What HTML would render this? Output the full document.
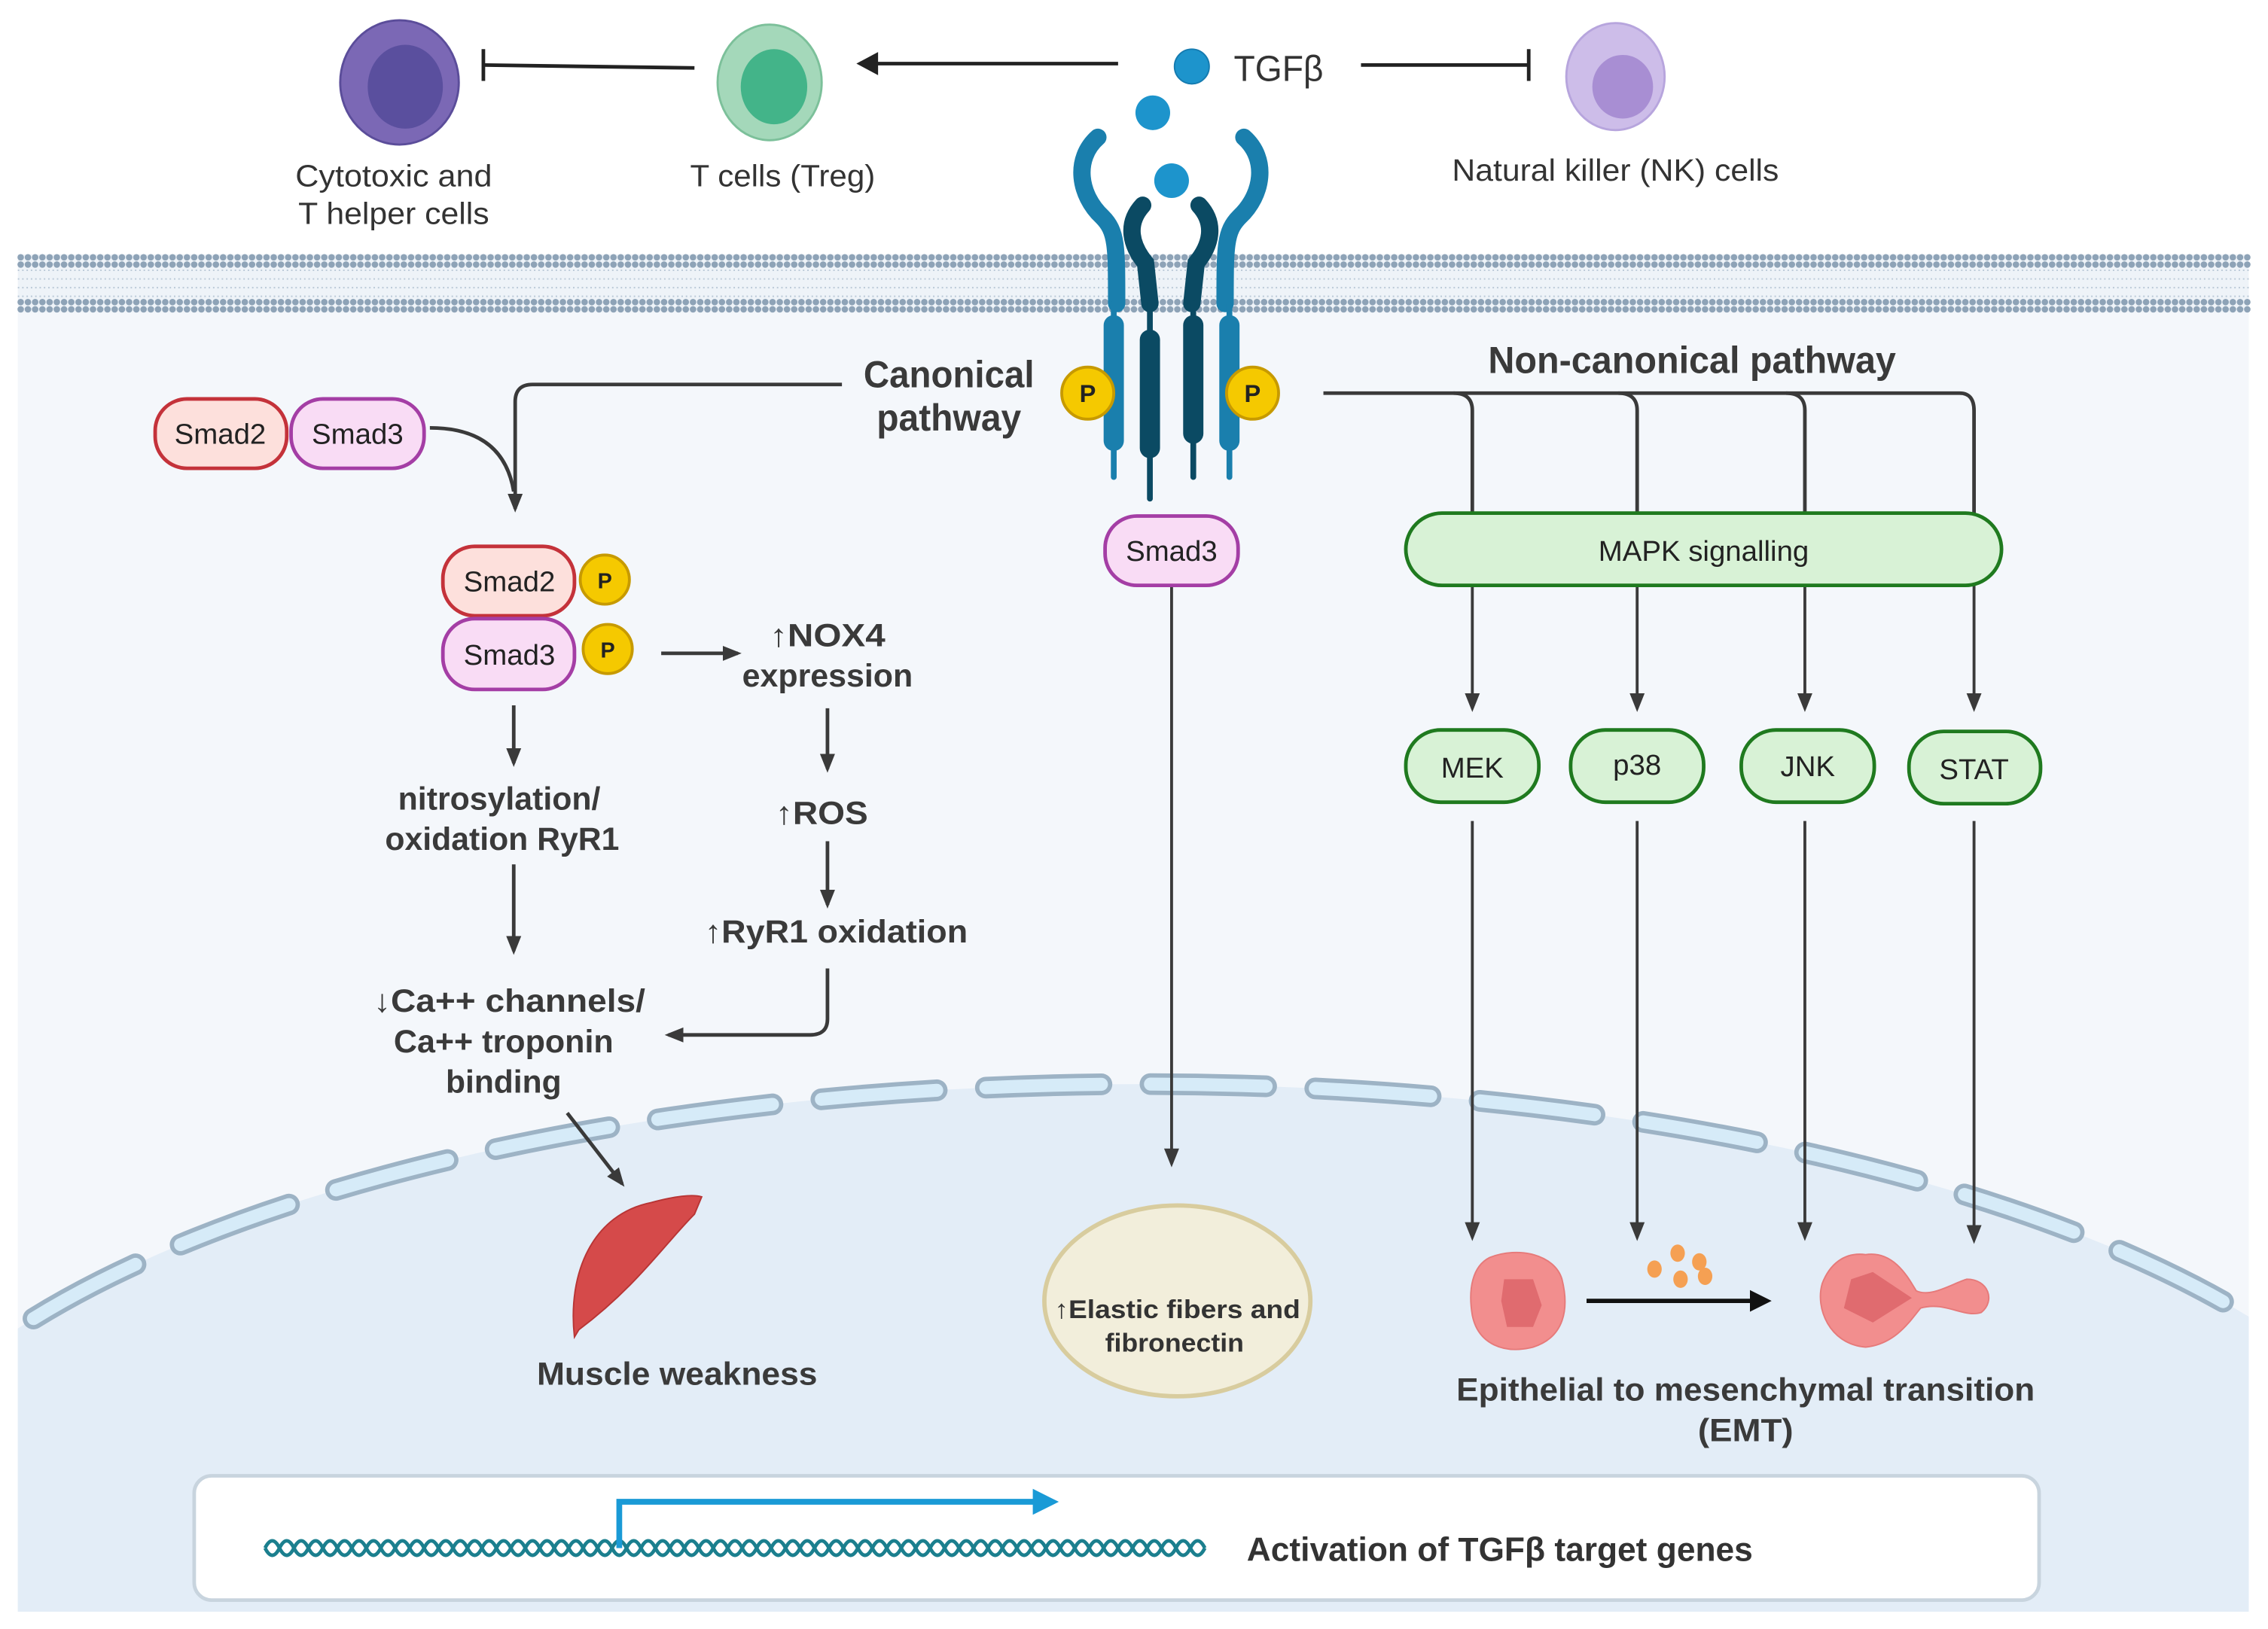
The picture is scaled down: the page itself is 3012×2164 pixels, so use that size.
<!DOCTYPE html>
<html><head><meta charset="utf-8"><style>html,body{margin:0;padding:0;background:#fff;width:3012px;height:2164px;overflow:hidden}svg{display:block}text{font-family:"Liberation Sans",sans-serif}</style></head><body>
<svg width="3012" height="2164" viewBox="0 0 1568 1127" xmlns="http://www.w3.org/2000/svg">
<defs>
<marker id="ah2" viewBox="0 0 10 10" refX="8" refY="5" markerWidth="13" markerHeight="13" orient="auto" markerUnits="userSpaceOnUse"><path d="M0,1 L10,5 L0,9 z" fill="#3a3a3a"/></marker>
<marker id="ahb" viewBox="0 0 10 10" refX="8" refY="5" markerWidth="5" markerHeight="5" orient="auto" markerUnits="strokeWidth"><path d="M0,0 L10,5 L0,10 z" fill="#111"/></marker>
<clipPath id="cyt"><rect x="12" y="215" width="1543" height="900"/></clipPath>
</defs>
<rect width="1568" height="1127" fill="#fff"/>
<rect x="12" y="200" width="1543" height="915" fill="#f4f7fb"/>
<g clip-path="url(#cyt)">
<ellipse cx="790" cy="1090" rx="900" ry="340" fill="#e3edf7"/>
<ellipse cx="790" cy="1090" rx="900" ry="340" fill="none" stroke="#9db3c5" stroke-width="15" stroke-dasharray="80 34" stroke-linecap="round"/>
<ellipse cx="790" cy="1090" rx="900" ry="340" fill="none" stroke="#d6ebf8" stroke-width="9" stroke-dasharray="80 34" stroke-linecap="round"/>
</g>
<rect x="12" y="176" width="1543" height="40" fill="#eef3f8"/>
<g stroke="#b9c8d6" stroke-width="1">
<line x1="12" y1="187" x2="1555" y2="187" stroke-dasharray="1 2"/>
<line x1="12" y1="193" x2="1555" y2="193" stroke-dasharray="1 2"/>
<line x1="12" y1="199" x2="1555" y2="199" stroke-dasharray="1 2"/>
<line x1="12" y1="205" x2="1555" y2="205" stroke-dasharray="1 2"/>
</g>
<g stroke="#8ea3b7" stroke-width="4.5" stroke-linecap="round" stroke-dasharray="0 5">
<line x1="14" y1="178" x2="1555" y2="178"/><line x1="14" y1="183" x2="1555" y2="183"/>
<line x1="14" y1="209" x2="1555" y2="209"/><line x1="14" y1="214" x2="1555" y2="214"/>
</g>
<ellipse cx="276" cy="57" rx="41" ry="43" fill="#7b68b5" stroke="#5b4d9a" stroke-width="1.5"/>
<ellipse cx="280" cy="60" rx="26" ry="29" fill="#5a4f9e"/>
<ellipse cx="532" cy="57" rx="36" ry="40" fill="#a4d8ba" stroke="#7cc09a" stroke-width="1.5"/>
<ellipse cx="535" cy="60" rx="23" ry="26" fill="#43b489"/>
<ellipse cx="1117" cy="53" rx="34" ry="37" fill="#cdbde9" stroke="#b7a5dd" stroke-width="1.5"/>
<ellipse cx="1122" cy="60" rx="21" ry="22" fill="#a88ed3"/>
<g fill="#333" font-size="21" text-anchor="middle">
<text x="272" y="129" textLength="136" lengthAdjust="spacingAndGlyphs">Cytotoxic and</text>
<text x="272" y="155" textLength="132" lengthAdjust="spacingAndGlyphs">T helper cells</text>
<text x="541" y="129" textLength="128" lengthAdjust="spacingAndGlyphs">T cells (Treg)</text>
<text x="1117" y="125" textLength="226" lengthAdjust="spacingAndGlyphs">Natural killer (NK) cells</text>
<text x="884" y="56" font-size="25" textLength="62" lengthAdjust="spacingAndGlyphs">TGFβ</text>
</g>
<circle cx="824" cy="46" r="12" fill="#1d94cc" stroke="#157bb0"/>
<g stroke="#222" stroke-width="2.5" fill="none">
<line x1="480" y1="47" x2="334" y2="45"/><line x1="334" y1="34" x2="334" y2="56"/>
<line x1="773" y1="44" x2="600" y2="44"/>
<line x1="941" y1="45" x2="1057" y2="45"/><line x1="1057" y1="34" x2="1057" y2="56"/>
</g>
<path d="M592,44 L607,36 L607,52 z" fill="#222"/>
<circle cx="797" cy="78" r="12" fill="#1d94cc"/>
<circle cx="810" cy="125" r="12" fill="#1d94cc"/>
<g fill="none" stroke-linecap="round">
<path d="M759,95 C742,110 746,135 762,150 C772,160 772,170 772,210" stroke="#1a7fad" stroke-width="12"/>
<path d="M860,95 C877,110 873,135 857,150 C847,160 847,170 847,210" stroke="#1a7fad" stroke-width="12"/>
<path d="M790,142 C778,155 782,170 792,182 L795,210" stroke="#0b4a63" stroke-width="12"/>
<path d="M829,142 C841,155 837,170 827,182 L824,210" stroke="#0b4a63" stroke-width="12"/>
<line x1="770" y1="210" x2="770" y2="330" stroke="#1a7fad" stroke-width="4"/>
<line x1="850" y1="210" x2="850" y2="330" stroke="#1a7fad" stroke-width="4"/>
<line x1="795" y1="210" x2="795" y2="345" stroke="#0b4a63" stroke-width="4"/>
<line x1="825" y1="210" x2="825" y2="330" stroke="#0b4a63" stroke-width="4"/>
<line x1="770" y1="225" x2="770" y2="305" stroke="#1a7fad" stroke-width="14"/>
<line x1="850" y1="225" x2="850" y2="305" stroke="#1a7fad" stroke-width="14"/>
<line x1="795" y1="235" x2="795" y2="310" stroke="#0b4a63" stroke-width="14"/>
<line x1="825" y1="225" x2="825" y2="300" stroke="#0b4a63" stroke-width="14"/>
</g>
<g font-size="17" font-weight="bold" text-anchor="middle" fill="#222">
<circle cx="752" cy="272" r="18" fill="#f5c900" stroke="#c79a00" stroke-width="2"/><text x="752" y="278">P</text>
<circle cx="866" cy="272" r="18" fill="#f5c900" stroke="#c79a00" stroke-width="2"/><text x="866" y="278">P</text>
</g>
<g stroke="#3a3a3a" stroke-width="2.5" fill="none">
<path d="M582,266 L368,266 Q356,266 356,278 L356,352" marker-end="url(#ah2)"/>
<path d="M297,296 C330,296 350,310 355,340" />
<line x1="810" y1="405" x2="810" y2="805" stroke-width="2" marker-end="url(#ah2)"/>
<line x1="457" y1="452" x2="510" y2="452" marker-end="url(#ah2)"/>
<line x1="572" y1="490" x2="572" y2="532" marker-end="url(#ah2)"/>
<line x1="572" y1="582" x2="572" y2="626" marker-end="url(#ah2)"/>
<path d="M572,670 L572,705 Q572,716 560,716 L462,716" marker-end="url(#ah2)"/>
<line x1="355" y1="488" x2="355" y2="528" marker-end="url(#ah2)"/>
<line x1="355" y1="598" x2="355" y2="658" marker-end="url(#ah2)"/>
<line x1="392" y1="770" x2="430" y2="819" marker-end="url(#ah2)"/>
<path d="M915,272 L1355,272 Q1365,272 1365,284 L1365,355"/>
<path d="M1005,272 Q1018,272 1018,284 L1018,355"/>
<path d="M1119,272 Q1132,272 1132,284 L1132,355"/>
<path d="M1235,272 Q1248,272 1248,284 L1248,355"/>
<line x1="1018" y1="405" x2="1018" y2="490" stroke-width="2" marker-end="url(#ah2)"/>
<line x1="1132" y1="405" x2="1132" y2="490" stroke-width="2" marker-end="url(#ah2)"/>
<line x1="1248" y1="405" x2="1248" y2="490" stroke-width="2" marker-end="url(#ah2)"/>
<line x1="1365" y1="405" x2="1365" y2="490" stroke-width="2" marker-end="url(#ah2)"/>
<line x1="1018" y1="568" x2="1018" y2="856" stroke-width="2" marker-end="url(#ah2)"/>
<line x1="1132" y1="568" x2="1132" y2="856" stroke-width="2" marker-end="url(#ah2)"/>
<line x1="1248" y1="568" x2="1248" y2="856" stroke-width="2" marker-end="url(#ah2)"/>
<line x1="1365" y1="568" x2="1365" y2="858" stroke-width="2" marker-end="url(#ah2)"/>
</g>
<g font-size="20" text-anchor="middle" fill="#222">
<rect x="107" y="276" width="91" height="48" rx="22" fill="#fde0dc" stroke="#c4323a" stroke-width="2.5"/><text x="152" y="307">Smad2</text>
<rect x="201" y="276" width="92" height="48" rx="22" fill="#f9dcf5" stroke="#a43ea5" stroke-width="2.5"/><text x="247" y="307">Smad3</text>
<rect x="306" y="378" width="91" height="48" rx="22" fill="#fde0dc" stroke="#c4323a" stroke-width="2.5"/><text x="352" y="409">Smad2</text>
<rect x="306" y="428" width="91" height="49" rx="22" fill="#f9dcf5" stroke="#a43ea5" stroke-width="2.5"/><text x="352" y="460">Smad3</text>
<rect x="764" y="357" width="92" height="48" rx="22" fill="#f9dcf5" stroke="#a43ea5" stroke-width="2.5"/><text x="810" y="388">Smad3</text>
<rect x="972" y="355" width="412" height="50" rx="25" fill="#d8f2d6" stroke="#1f7a1f" stroke-width="2.5"/><text x="1178" y="388">MAPK signalling</text>
<rect x="972" y="505" width="92" height="50" rx="24" fill="#d8f2d6" stroke="#1f7a1f" stroke-width="2.5"/><text x="1018" y="538">MEK</text>
<rect x="1086" y="505" width="92" height="50" rx="24" fill="#d8f2d6" stroke="#1f7a1f" stroke-width="2.5"/><text x="1132" y="536">p38</text>
<rect x="1204" y="505" width="92" height="50" rx="24" fill="#d8f2d6" stroke="#1f7a1f" stroke-width="2.5"/><text x="1250" y="537">JNK</text>
<rect x="1320" y="506" width="91" height="50" rx="24" fill="#d8f2d6" stroke="#1f7a1f" stroke-width="2.5"/><text x="1365" y="539">STAT</text>
</g>
<g font-size="15" font-weight="bold" text-anchor="middle" fill="#222">
<circle cx="418" cy="401" r="17" fill="#f5c900" stroke="#c79a00" stroke-width="2"/><text x="418" y="407">P</text>
<circle cx="420" cy="449" r="17" fill="#f5c900" stroke="#c79a00" stroke-width="2"/><text x="420" y="455">P</text>
</g>
<g font-weight="bold" fill="#3a3a3a" text-anchor="middle" font-size="22">
<text x="656" y="268" font-size="26" textLength="118" lengthAdjust="spacingAndGlyphs">Canonical</text>
<text x="656" y="298" font-size="26" textLength="100" lengthAdjust="spacingAndGlyphs">pathway</text>
<text x="1170" y="258" font-size="26" textLength="282" lengthAdjust="spacingAndGlyphs">Non-canonical pathway</text>
<text x="572" y="447" textLength="80" lengthAdjust="spacingAndGlyphs">↑NOX4</text>
<text x="572" y="475" textLength="118" lengthAdjust="spacingAndGlyphs">expression</text>
<text x="568" y="570" textLength="64" lengthAdjust="spacingAndGlyphs">↑ROS</text>
<text x="578" y="652" textLength="182" lengthAdjust="spacingAndGlyphs">↑RyR1 oxidation</text>
<text x="345" y="560" textLength="140" lengthAdjust="spacingAndGlyphs">nitrosylation/</text>
<text x="347" y="588" textLength="162" lengthAdjust="spacingAndGlyphs">oxidation RyR1</text>
<text x="352" y="700" textLength="188" lengthAdjust="spacingAndGlyphs">↓Ca++ channels/</text>
<text x="348" y="728" textLength="152" lengthAdjust="spacingAndGlyphs">Ca++ troponin</text>
<text x="348" y="756" textLength="80" lengthAdjust="spacingAndGlyphs">binding</text>
<text x="468" y="958" textLength="194" lengthAdjust="spacingAndGlyphs">Muscle weakness</text>
<text x="1207" y="969" textLength="400" lengthAdjust="spacingAndGlyphs">Epithelial to mesenchymal transition</text>
<text x="1207" y="997" textLength="66" lengthAdjust="spacingAndGlyphs">(EMT)</text>
</g>
<path d="M397,925 C392,880 410,840 450,832 C465,828 478,826 485,828 L480,840 C460,860 440,890 400,920 z" fill="#d54a4a" stroke="#b83535" stroke-width="1"/>
<ellipse cx="814" cy="900" rx="92" ry="66" fill="#f2eedb" stroke="#d8cc9e" stroke-width="3"/>
<g font-weight="bold" fill="#333" text-anchor="middle" font-size="18">
<text x="814" y="912" textLength="170" lengthAdjust="spacingAndGlyphs">↑Elastic fibers and</text>
<text x="812" y="935" textLength="96" lengthAdjust="spacingAndGlyphs">fibronectin</text>
</g>
<path d="M1030,870 C1050,862 1075,868 1080,885 C1085,905 1082,925 1060,932 C1040,937 1022,930 1018,910 C1015,892 1018,876 1030,870 z" fill="#f28e8e" stroke="#e67a7a"/>
<path d="M1040,885 L1060,885 L1066,903 L1060,918 L1042,918 L1038,900 z" fill="#e06b6f"/>
<path d="M1290,868 C1310,865 1320,885 1325,893 C1335,898 1350,888 1360,885 C1375,885 1380,900 1370,908 C1358,912 1345,900 1328,905 C1320,915 1310,930 1290,932 C1265,930 1255,905 1260,888 C1265,875 1275,866 1290,868 z" fill="#f28e8e" stroke="#e67a7a"/>
<path d="M1280,885 L1295,880 L1322,898 L1295,915 L1275,905 z" fill="#e06b6f"/>
<line x1="1097" y1="900" x2="1222" y2="900" stroke="#111" stroke-width="3" marker-end="url(#ahb)"/>
<g fill="#f5a053"><ellipse cx="1160" cy="867" rx="5" ry="6"/><ellipse cx="1175" cy="873" rx="5" ry="6"/><ellipse cx="1144" cy="878" rx="5" ry="6"/><ellipse cx="1162" cy="885" rx="5" ry="6"/><ellipse cx="1179" cy="883" rx="5" ry="6"/></g>
<rect x="134" y="1021" width="1276" height="86" rx="12" fill="#fff" stroke="#c8d4de" stroke-width="2.5"/>
<path d="M183,1071 q5,-10 10,0 t10,0 t10,0 t10,0 t10,0 t10,0 t10,0 t10,0 t10,0 t10,0 t10,0 t10,0 t10,0 t10,0 t10,0 t10,0 t10,0 t10,0 t10,0 t10,0 t10,0 t10,0 t10,0 t10,0 t10,0 t10,0 t10,0 t10,0 t10,0 t10,0 t10,0 t10,0 t10,0 t10,0 t10,0 t10,0 t10,0 t10,0 t10,0 t10,0 t10,0 t10,0 t10,0 t10,0 t10,0 t10,0 t10,0 t10,0 t10,0 t10,0 t10,0 t10,0 t10,0 t10,0 t10,0 t10,0 t10,0 t10,0 t10,0 t10,0 t10,0 t10,0 t10,0 t10,0 t10,0" fill="none" stroke="#1b7f8e" stroke-width="2.5"/>
<path d="M183,1071 q5,10 10,0 t10,0 t10,0 t10,0 t10,0 t10,0 t10,0 t10,0 t10,0 t10,0 t10,0 t10,0 t10,0 t10,0 t10,0 t10,0 t10,0 t10,0 t10,0 t10,0 t10,0 t10,0 t10,0 t10,0 t10,0 t10,0 t10,0 t10,0 t10,0 t10,0 t10,0 t10,0 t10,0 t10,0 t10,0 t10,0 t10,0 t10,0 t10,0 t10,0 t10,0 t10,0 t10,0 t10,0 t10,0 t10,0 t10,0 t10,0 t10,0 t10,0 t10,0 t10,0 t10,0 t10,0 t10,0 t10,0 t10,0 t10,0 t10,0 t10,0 t10,0 t10,0 t10,0 t10,0 t10,0" fill="none" stroke="#1b7f8e" stroke-width="2.5"/>
<path d="M428,1071 L428,1039 L716,1039" fill="none" stroke="#1a9ad6" stroke-width="4"/>
<path d="M732,1039 L714,1030 L714,1048 z" fill="#1a9ad6"/>
<text x="862" y="1080" font-size="23" font-weight="bold" fill="#333" textLength="350" lengthAdjust="spacingAndGlyphs">Activation of TGFβ target genes</text>
</svg>
</body></html>
